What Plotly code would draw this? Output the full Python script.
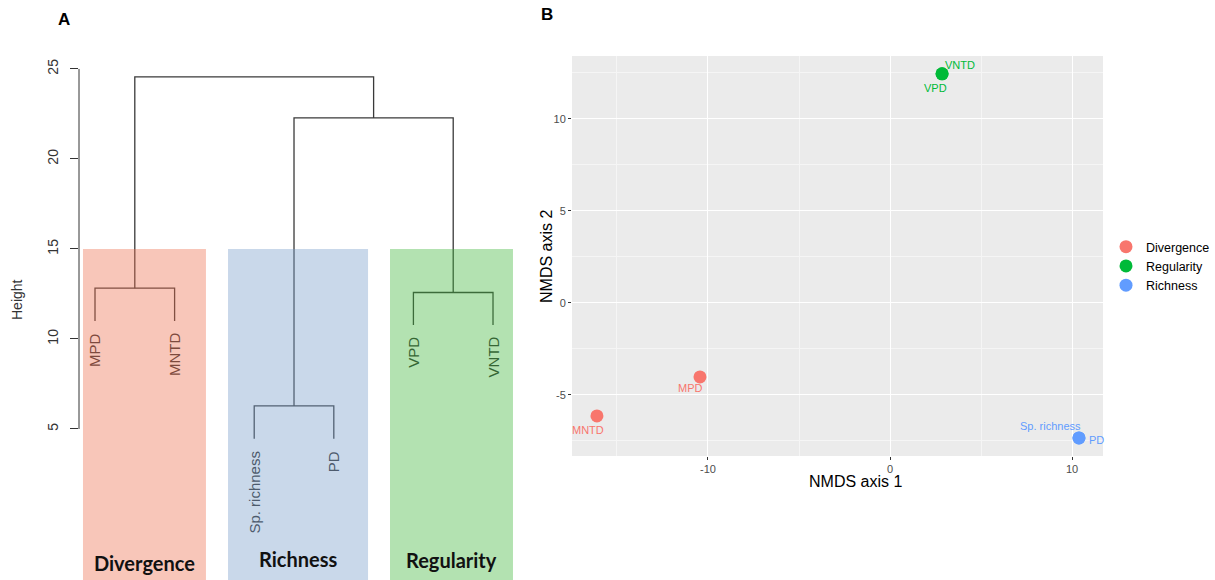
import plotly.graph_objects as go

W, H = 1215, 580

# ---------------- data ----------------
leaf_labels = ["MPD", "MNTD", "Sp. richness", "PD", "VPD", "VNTD"]
leaf_heights = [11.0, 11.0, 4.45, 4.45, 10.78, 10.78]
# merges: negative = leaf (1-based), positive = earlier merge (1-based)
merge_left = [-1, -3, -5, 2, 1]
merge_right = [-2, -4, -6, 3, 4]
merge_height = [12.82, 6.28, 12.58, 22.28, 24.56]
group_names = ["Divergence", "Richness", "Regularity"]
height_ticks = [5, 10, 15, 20, 25]

nmds_labels = ["MPD", "MNTD", "VPD", "VNTD", "Sp. richness", "PD"]
nmds_group = ["Divergence", "Divergence", "Regularity", "Regularity", "Richness", "Richness"]
nmds_x = [-10.44, -16.1, 2.86, 2.86, 10.38, 10.38]
nmds_y = [-4.02, -6.14, 12.45, 12.45, -7.34, -7.34]
legend_order = ["Divergence", "Regularity", "Richness"]
x_ticks = [-10, 0, 10]
y_ticks = [-5, 0, 5, 10]

# ---------------- styles ----------------
FONT = "Liberation Sans, Arial, Helvetica, sans-serif"
gg_colors = {"Divergence": "#F8766D", "Regularity": "#00BA38", "Richness": "#619CFF"}
box_fill = {"Divergence": "rgb(238,113,80)", "Richness": "rgb(120,157,202)", "Regularity": "rgb(65,182,60)"}
leaf_text_col = {"Divergence": "#7d4a3d", "Richness": "#4d5b6d", "Regularity": "#356634"}
box_opacity = 0.4
box_edges = [(0.849, 2.394), (2.671, 4.430), (4.706, 6.251)]
group_label_y = [563, 559, 560]
leaf_group = ["Divergence", "Divergence", "Richness", "Richness", "Regularity", "Regularity"]

L_XR = [0.799, 6.339]
L_YR = [-3.39, 28.83]
R_XR = [-17.47, 11.7]
R_YR = [-8.32, 13.42]

# label offsets (px) for NMDS text labels
lab_shift = {"MPD": (-9, -11), "MNTD": (-9, -14), "VPD": (-7, -14), "VNTD": (18, 9),
             "Sp. richness": (-28, 12), "PD": (18, -2)}

fig = go.Figure()

# ---------------- dendrogram ----------------
def node_pos(n):
    if n < 0:
        return float(-n), leaf_heights[-n - 1]
    m = n - 1
    xl, _ = node_pos(merge_left[m])
    xr, _ = node_pos(merge_right[m])
    return (xl + xr) / 2, merge_height[m]

xs, ys = [], []
for i in range(len(merge_height)):
    xa, ha = node_pos(merge_left[i])
    xb, hb = node_pos(merge_right[i])
    h = merge_height[i]
    xs += [xa, xa, xb, xb, None]
    ys += [ha, h, h, hb, None]

fig.add_trace(go.Scatter(x=xs, y=ys, mode="lines", line=dict(color="#3a3a3a", width=1.3),
                         xaxis="x", yaxis="y", showlegend=False, hoverinfo="skip"))

shapes = []
for g, (x0, x1) in zip(group_names, box_edges):
    shapes.append(dict(type="rect", xref="x", yref="y", x0=x0, x1=x1, y0=L_YR[0], y1=15,
                       fillcolor=box_fill[g], opacity=box_opacity, line=dict(width=0), layer="above"))
# R-style y axis line spanning the tick range
shapes.append(dict(type="line", xref="x domain", yref="y", x0=0, x1=0,
                   y0=min(height_ticks), y1=max(height_ticks), line=dict(color="#333", width=1)))

annotations = []
for i, lab in enumerate(leaf_labels):
    annotations.append(dict(x=i + 1, y=leaf_heights[i], xref="x", yref="y", text=lab, textangle=-90,
                            showarrow=False, yanchor="top", xanchor="center", yshift=-10,
                            font=dict(family=FONT, size=15, color=leaf_text_col[leaf_group[i]])))
for g, (x0, x1), gy in zip(group_names, box_edges, group_label_y):
    annotations.append(dict(x=(x0 + x1) / 2, y=1 - gy / H, xref="x", yref="paper", text="<b>%s</b>" % g,
                            showarrow=False, xanchor="center", yanchor="middle",
                            font=dict(family="Lato, Open Sans, sans-serif", size=20, color="#111")))

def paper_text(px, py, text, size, color="#000", angle=0):
    return dict(x=px / W, y=1 - py / H, xref="paper", yref="paper", text=text, textangle=angle,
                showarrow=False, xanchor="center", yanchor="middle",
                font=dict(family=FONT, size=size, color=color))

annotations.append(paper_text(17, 300, "Height", 14, "#333", -90))
annotations.append(paper_text(64, 19, "<b>A</b>", 17))
annotations.append(paper_text(547, 15, "<b>B</b>", 17))

# ---------------- NMDS ----------------
for g in legend_order:
    idx = [i for i, gg in enumerate(nmds_group) if gg == g]
    fig.add_trace(go.Scatter(x=[nmds_x[i] for i in idx], y=[nmds_y[i] for i in idx], mode="markers",
                             name=g, marker=dict(color=gg_colors[g], size=13, line=dict(width=0)),
                             xaxis="x2", yaxis="y2"))
for i, lab in enumerate(nmds_labels):
    dx, dy = lab_shift[lab]
    annotations.append(dict(x=nmds_x[i], y=nmds_y[i], xref="x2", yref="y2", text=lab, showarrow=False,
                            xshift=dx, yshift=dy, xanchor="center", yanchor="middle",
                            font=dict(family=FONT, size=11, color=gg_colors[nmds_group[i]])))
annotations.append(paper_text(855, 481, "NMDS axis 1", 16))
annotations.append(paper_text(547, 257, "NMDS axis 2", 16, "#000", -90))

fig.update_layout(
    width=W, height=H, margin=dict(l=0, r=0, t=0, b=0),
    paper_bgcolor="white", plot_bgcolor="white",
    xaxis=dict(domain=[79 / W, 520 / W], range=L_XR, showgrid=False, zeroline=False, showline=False,
               showticklabels=False, ticks=""),
    yaxis=dict(domain=[0, 1], range=L_YR, showgrid=False, zeroline=False, showline=False,
               tickvals=height_ticks, ticks="outside", ticklen=8, tickcolor="#333", tickwidth=1,
               tickangle=-90, ticklabelstandoff=6,
               tickfont=dict(family=FONT, size=14, color="#333")),
    xaxis2=dict(domain=[572 / W, 1103 / W], range=R_XR, anchor="y2", showgrid=True, gridcolor="white",
                gridwidth=1.1, zeroline=False, showline=False, tickvals=x_ticks,
                ticktext=[str(v) for v in x_ticks], ticks="outside", ticklen=3, tickcolor="#333",
                tickfont=dict(family=FONT, size=11, color="#4D4D4D"),
                minor=dict(tickvals=[-15, -5, 5], showgrid=True, gridcolor="#F5F5F5", gridwidth=0.6, ticks="")),
    yaxis2=dict(domain=[1 - 456 / H, 1 - 56 / H], range=R_YR, anchor="x2", showgrid=True, gridcolor="white",
                gridwidth=1.1, zeroline=False, showline=False, tickvals=y_ticks,
                ticktext=[str(v) for v in y_ticks], ticks="outside", ticklen=3, tickcolor="#333",
                tickfont=dict(family=FONT, size=11, color="#4D4D4D"),
                minor=dict(tickvals=[-7.5, -2.5, 2.5, 7.5, 12.5], showgrid=True, gridcolor="#F5F5F5",
                           gridwidth=0.6, ticks="")),
    legend=dict(x=1106 / W, y=1 - 232 / H, xanchor="left", yanchor="top", bgcolor="rgba(0,0,0,0)",
                font=dict(family=FONT, size=12.5, color="#000"), tracegroupgap=0),
    shapes=shapes, annotations=annotations,
)
# grey panel background for right plot
fig.add_shape(type="rect", xref="x2 domain", yref="y2 domain", x0=0, x1=1, y0=0, y1=1,
              fillcolor="#EBEBEB", line=dict(width=0), layer="below")

fig.write_html("out.html", config={"displayModeBar": False},
               post_script="document.body.style.margin='0px';")
